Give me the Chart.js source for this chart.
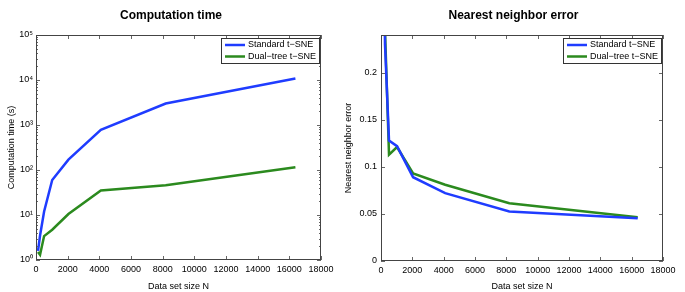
<!DOCTYPE html>
<html>
<head>
<meta charset="utf-8">
<script src="https://cdn.jsdelivr.net/npm/chart.js@4.4.1/dist/chart.umd.min.js"></script>
<style>
  body { margin: 0; background: #fff; }
  #wrap { position: relative; width: 685px; height: 292px; }
  canvas { position: absolute; top: 0; }
</style>
</head>
<body>
<div id="wrap">
  <canvas id="time-chart" width="342" height="292" style="left:0"></canvas>
  <canvas id="error-chart" width="343" height="292" style="left:342px"></canvas>
</div>
<script>
'use strict';

// data set sizes N (x values)
let dataSizes = [128, 256, 512, 1024, 2048, 4096, 8192, 16384];
let seriesNames = ['Standard t\u2212SNE', 'Dual\u2212tree t\u2212SNE'];

// computation time in seconds
let standardTime = [1.6, 3.5, 12, 60, 170, 780, 3000, 10800];
let dualTreeTime = [1.5, 1.3, 3.4, 4.7, 10.5, 35, 46, 115];

// nearest neighbor error
let standardError = [0.40, 0.23, 0.128, 0.122, 0.089, 0.072, 0.0525, 0.0455];
let dualTreeError = [0.40, 0.245, 0.113, 0.121, 0.093, 0.081, 0.0614, 0.0465];

// tick values
let xTicks = [0, 2000, 4000, 6000, 8000, 10000, 12000, 14000, 16000, 18000];
let timeTicks = [1, 10, 100, 1000, 10000, 100000];
let errorTicks = [0, 0.05, 0.1, 0.15, 0.2];

let blue = '#1f3cff';
let green = '#2b8a1e';

Chart.defaults.font.family = '"Liberation Sans", Arial, Helvetica, sans-serif';
Chart.defaults.font.size = 9;
Chart.defaults.color = '#000';

let supDigits = ['\u2070', '\u00b9', '\u00b2', '\u00b3', '\u2074', '\u2075'];

function toPoints(values){
  return dataSizes.map((n, i) => ({x: n, y: values[i]}));
}

// box round the axes with inward ticks, like matlab
const boxTicks = {
  id: 'boxTicks',
  afterDatasetsDraw(chart){
    const ctx = chart.ctx;
    const a = chart.chartArea;
    const x = chart.scales.x;
    const y = chart.scales.y;
    ctx.save();
    ctx.strokeStyle = '#666';
    ctx.lineWidth = 1;
    ctx.beginPath();
    x.ticks.forEach(t => {
      const px = Math.round(x.getPixelForValue(t.value)) + 0.5;
      ctx.moveTo(px, a.bottom); ctx.lineTo(px, a.bottom - 4);
      ctx.moveTo(px, a.top); ctx.lineTo(px, a.top + 4);
    });
    y.ticks.forEach(t => {
      const py = Math.round(y.getPixelForValue(t.value)) + 0.5;
      let len = 4;
      if (y.type === 'logarithmic' && !timeTicks.includes(t.value)) len = 2;
      ctx.moveTo(a.left, py); ctx.lineTo(a.left + len, py);
      ctx.moveTo(a.right, py); ctx.lineTo(a.right - len, py);
    });
    ctx.stroke();
    ctx.strokeStyle = '#444';
    ctx.strokeRect(Math.round(a.left) + 0.5, Math.round(a.top) + 0.5,
      Math.round(a.width) - 1, Math.round(a.height) - 1);
    ctx.restore();
  }
};

// legend box in the upper right corner of the axes
const boxLegend = {
  id: 'boxLegend',
  afterDraw(chart){
    const ctx = chart.ctx;
    const a = chart.chartArea;
    const w = 98, h = 25;
    const left = Math.round(a.right) - 2 - w;
    const top = Math.round(a.top) + 3;
    ctx.save();
    ctx.fillStyle = '#fff';
    ctx.fillRect(left, top, w, h);
    ctx.strokeStyle = '#333';
    ctx.lineWidth = 1;
    ctx.strokeRect(left + 0.5, top + 0.5, w, h);
    chart.data.datasets.forEach((ds, i) => {
      const yy = top + 7 + i * 11.5;
      ctx.strokeStyle = ds.borderColor;
      ctx.lineWidth = 2.5;
      ctx.beginPath();
      ctx.moveTo(left + 4, yy);
      ctx.lineTo(left + 24, yy);
      ctx.stroke();
      ctx.fillStyle = '#000';
      ctx.font = '9px "Liberation Sans", Arial, sans-serif';
      ctx.textBaseline = 'middle';
      ctx.fillText(ds.label, left + 27, yy);
    });
    ctx.restore();
  }
};

function makeChart(canvasId, title, yTitle, stdValues, dualValues, yScale, yWidth, xHeight, yTitlePad, rightGap){
  return new Chart(document.getElementById(canvasId), {
    type: 'line',
    data: {
      datasets: [
        {label: seriesNames[0], data: toPoints(stdValues), borderColor: blue, backgroundColor: blue},
        {label: seriesNames[1], data: toPoints(dualValues), borderColor: green, backgroundColor: green}
      ]
    },
    options: {
      responsive: false,
      animation: false,
      devicePixelRatio: 1,
      layout: {padding: 0},
      elements: {
        line: {borderWidth: 2.5, tension: 0},
        point: {radius: 0}
      },
      plugins: {
        legend: {display: false},
        tooltip: {enabled: false},
        title: {
          display: true,
          text: title,
          font: {size: 12, weight: 'bold'},
          color: '#000',
          padding: {top: 8, bottom: 12.6}
        }
      },
      scales: {
        x: {
          type: 'linear',
          min: 0,
          max: 18000,
          afterBuildTicks: s => { s.ticks = xTicks.map(v => ({value: v})); },
          afterFit: s => { s.height = xHeight; },
          grid: {display: false, drawTicks: false},
          border: {display: false},
          ticks: {padding: 4, autoSkip: false, maxRotation: 0, callback: v => String(v)},
          title: {display: true, text: 'Data set size N', padding: {top: 1, bottom: 0}}
        },
        y: Object.assign({
          afterFit: s => { s.width = yWidth; },
          grid: {display: false, drawTicks: false},
          border: {display: false},
          title: {display: true, text: yTitle, padding: {top: yTitlePad, bottom: 0}}
        }, yScale),
        // empty right-hand axis that only keeps space so the title stays centred on the canvas
        gap: {
          type: 'linear',
          position: 'right',
          grid: {display: false, drawTicks: false},
          border: {display: false},
          ticks: {display: false},
          afterFit: s => { s.width = rightGap; }
        }
      }
    },
    plugins: [boxTicks, boxLegend]
  });
}

let timeMinor = [];
for (let e = 0; e < 5; e++) {
  for (let m = 1; m < 10; m++) timeMinor.push(m * Math.pow(10, e));
}
timeMinor.push(100000);

makeChart('time-chart', 'Computation time', 'Computation time (s)',
  standardTime, dualTreeTime, {
    type: 'logarithmic',
    min: 1,
    max: 100000,
    afterBuildTicks: s => { s.ticks = timeMinor.map(v => ({value: v})); },
    ticks: {
      padding: 3,
      autoSkip: false,
      callback: v => {
        let i = timeTicks.indexOf(v);
        return i < 0 ? '' : '10' + supDigits[i];
      }
    }
  }, 36, 32, 6, 21);

makeChart('error-chart', 'Nearest neighbor error', 'Nearest neighbor error',
  standardError, dualTreeError, {
    type: 'linear',
    min: 0,
    max: 0.24,
    afterBuildTicks: s => { s.ticks = errorTicks.map(v => ({value: v})); },
    ticks: {padding: 4, autoSkip: false, callback: v => String(v)}
  }, 39, 31, 1, 22);
</script>
</body>
</html>
